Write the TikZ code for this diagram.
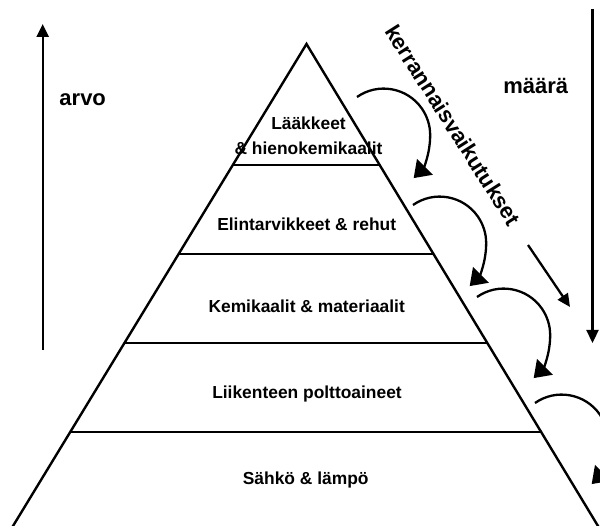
\documentclass[tikz,border=0pt]{standalone}
\usepackage{fontspec}
\setmainfont{Liberation Sans}
\usetikzlibrary{arrows.meta,calc}
\begin{document}
\begin{tikzpicture}[x=1pt,y=1pt,
  edge/.style={line width=2.4pt},
  layer/.style={font=\fontsize{17.4}{25}\selectfont\bfseries, align=center, inner sep=0pt},
  big/.style={font=\fontsize{22}{26}\selectfont\bfseries, inner sep=0pt},
  axis/.style={line width=2.3pt, -{Triangle[length=13pt,width=12pt]}},
  curv/.style={line width=2.3pt, -{Triangle[length=16pt,width=22pt]}},
]
\useasboundingbox (0,0) rectangle (600,-526);
\begin{scope}
\clip (0,0) rectangle (600,-526);
\coordinate (A) at (306.5,-44);
\coordinate (BL) at (13,-526);
\coordinate (BR) at (598,-526);
\draw[edge, line join=miter] ($(A)!1.05!(BL)$) -- (A) -- ($(A)!1.05!(BR)$);
\foreach \t in {0.251,0.4357,0.6203,0.805}{
  \draw[edge] ($(A)!\t!(BL)$) -- ($(A)!\t!(BR)$);
}
\node[layer] (l1) at (308.5,-136) {Lääkkeet\\\& hienokemikaalit};
\node[layer] (l2) at (306.7,-224) {Elintarvikkeet \& rehut};
\node[layer] (l3) at (306.7,-306) {Kemikaalit \& materiaalit};
\node[layer] (l4) at (307,-394) {Liikenteen polttoaineet};
\node[layer] (l5) at (305.7,-480) {Sähkö \& lämpö};

\coordinate (L0) at (42.7,-350);
\coordinate (L1) at (42.7,-24);
\draw[axis] (L0) -- (L1);
\coordinate (R0) at (592.5,-9);
\coordinate (R1) at (592.5,-343);
\draw[axis] (R0) -- (R1);
\coordinate (D0) at (528,-245);
\coordinate (D1) at (570,-307);
\draw[axis] (D0) -- (D1);

\node[big] (arvo) at (82.7,-100) {arvo};
\node[big] (maara) at (535.7,-86) {määrä};
\node[big, rotate=-57.6] (kerr) at (453,-125) {kerrannaisvaikutukset};

\foreach \s in {(357,-97),(413,-205),(477,-297),(535,-403)}{
  \draw[curv] \s arc[start angle=125, end angle=0, radius=46.5]
    .. controls +(0,-20) and +(9,9) .. ++(-16.5,-43);
}
\end{scope}
\end{tikzpicture}
\end{document}
